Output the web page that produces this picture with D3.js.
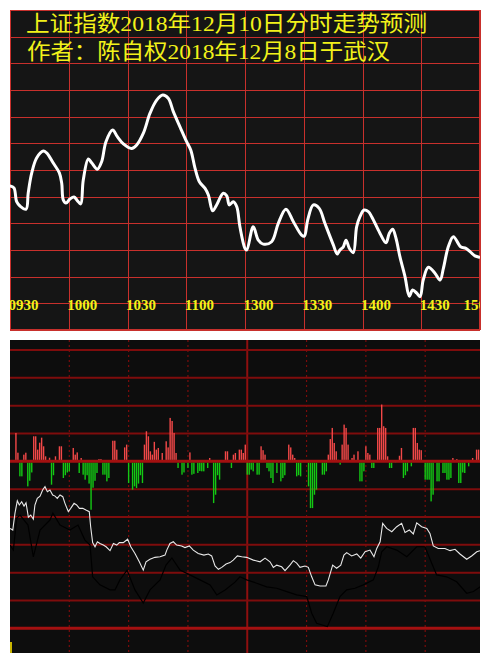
<!DOCTYPE html>
<html><head><meta charset="utf-8">
<script src="https://cdn.jsdelivr.net/npm/d3@7"></script>
<style>html,body{margin:0;padding:0;background:#fff;}svg{display:block;}</style>
</head><body>
<script>
// ---------- DATA ----------
const titleLines = ["上证指数2018年12月10日分时走势预测", "作者：陈自权2018年12月8日于武汉"];
const timeTicks = [0, 30, 60, 90, 120, 150, 180, 210, 240];
const timeLabels = ["0930", "1000", "1030", "1100", "1300", "1330", "1400", "1430", "1500"];

// top panel: predicted curve (minute, level in grid units)
const predMinute = [0,2.0,3.4,5.1,8.2,9.3,11.1,13.6,17.0,18.7,22.1,25.2,26.4,27.2,28.6,30.6,32.7,34.4,36.1,37.4,40.0,41.7,44.6,46.8,49.0,52.4,54.8,57.9,62.1,64.7,68.1,71.5,74.9,78.0,80.8,83.4,86.8,90.2,92.3,94.5,96.7,99.6,101.3,103.5,105.5,108.9,110.7,112.0,114.0,115.8,117.4,120.0,120.9,124.2,126.8,129.3,133.6,137.0,140.9,144.7,148.9,150.3,152.0,154.9,157.9,160.8,165.1,167.1,168.5,170.2,171.6,173.3,175.3,177.0,178.7,180.8,183.0,184.7,188.9,192.0,193.7,195.4,197.1,199.1,201.7,203.9,205.6,207.7,209.4,211.0,213.6,217.0,219.6,221.3,223.8,226.4,230.1,232.8,234.9,237.4,239.6];
const predLevel = [5.40,5.33,4.81,4.65,4.53,5.14,5.89,6.45,6.71,6.64,6.26,5.89,5.51,4.88,4.76,4.91,4.99,4.85,4.73,5.62,6.41,6.27,6.03,6.31,7.06,7.50,7.25,6.98,6.81,6.94,7.38,8.13,8.62,8.81,8.69,8.19,7.62,7.06,6.75,6.06,5.56,5.31,5.06,4.47,4.69,5.13,5.03,4.69,4.81,4.62,3.87,3.06,3.00,3.87,3.37,3.22,3.31,4.00,4.53,4.06,3.56,3.52,4.12,4.69,4.56,4.00,3.19,2.85,3.00,3.12,3.37,3.06,2.90,3.87,4.25,4.50,4.44,4.25,3.63,3.27,3.63,3.78,3.44,2.75,2.00,1.27,1.50,1.38,1.25,1.87,2.35,2.13,1.87,2.31,3.12,3.50,3.12,3.06,2.94,2.78,2.73];

// bottom panel: inflow (red) / outflow (green) bars, in tenths of a grid cell
const upMinute = [3,4,7,8,12,13,14,15,16,17,18,20,23,25,26,32,33,34,36,45,46,52,53,54,58,59,68,69,70,71,72,73,74,75,77,79,80,81,82,83,84,91,101,109,110,113,114,116,117,118,119,127,128,129,141,142,143,144,161,162,163,164,165,166,168,169,170,171,173,174,176,180,181,182,186,187,188,189,190,191,197,198,204,205,206,207,208,224,226,234,236,237];
const upValue  = [10.2,3.1,2.4,3.1,9.0,9.0,4.2,6.7,8.5,5.4,1.8,1.3,1.8,5.4,5.4,4.8,2.4,3.2,1.2,0.8,0.8,7.4,7.4,4.2,5.0,6.0,6.0,10.8,9.0,3.6,2.4,7.0,4.2,4.8,3.0,7.2,5.0,15.6,14.5,10.2,3.0,3.2,1.2,3.6,3.6,2.4,3.0,4.2,4.2,3.0,6.0,5.4,4.0,2.4,6.0,5.0,2.4,1.2,2.4,8.0,12.0,6.6,3.6,0.6,6.0,13.2,12.0,6.0,1.2,2.4,3.6,5.4,3.0,2.4,12.0,12.0,20.4,12.6,12.0,1.8,2.0,4.8,12.0,12.0,6.6,4.2,4.0,1.2,0.8,1.2,4.2,4.2];
const downMinute = [5,6,9,10,11,21,22,27,28,29,30,35,37,38,39,40,41,42,43,44,47,48,49,50,60,62,63,64,65,66,67,85,87,88,90,92,93,95,96,97,98,100,103,104,105,106,112,120,121,122,123,125,126,130,131,132,133,135,137,138,139,145,146,147,151,152,153,154,155,158,159,160,167,177,178,179,183,184,192,193,195,199,200,201,203,210,211,212,213,214,216,217,219,220,221,222,223,227,228,229,230,232];
const downValue  = [5.4,5.4,9.0,7.0,4.0,8.4,5.0,6.0,5.0,4.0,3.6,4.2,4.8,6.6,5.0,8.0,17.4,9.5,7.0,4.2,4.8,4.8,7.2,6.0,7.8,10.2,9.0,9.6,8.0,5.0,7.8,2.4,4.8,4.0,2.4,4.8,4.5,4.2,3.5,3.6,3.6,2.4,15.0,12.0,5.0,6.6,2.4,4.8,4.8,3.0,3.6,4.8,4.8,2.4,3.6,6.0,7.8,4.2,7.2,6.0,5.0,5.4,5.0,5.4,9.0,16.8,16.8,12.0,10.2,4.8,4.8,3.6,1.2,7.2,7.2,3.6,2.4,2.4,2.4,2.4,0.6,6.0,5.0,3.6,1.8,6.6,6.6,6.6,14.4,12.0,7.2,7.2,4.2,4.2,6.6,6.6,6.0,7.8,7.8,4.0,4.2,1.8];

// bottom panel: white and black lines (minute, level in grid units)
const whiteMinute = [0,1.4,2.5,3.7,4.7,5.9,7.1,8.1,9.3,10.5,11.8,12.6,13.8,15.2,16.5,17.7,18.9,20.2,21.6,22.8,23.9,25.3,26.7,27.8,29.5,30.7,32.4,33.7,35.1,36.8,38.4,40.1,40.8,41.8,43.0,44.2,45.5,47.2,48.6,50.6,52.3,54.0,55.3,57.3,59.5,61.1,63.2,65.4,67.4,68.8,70.8,73.3,75.9,78.4,79.3,80.9,82.6,84.3,86.8,88.5,90.7,92.7,95.2,98.1,100.3,102.0,103.7,105.4,107.1,109.3,111.3,112.9,115.0,117.2,119.7,123.1,126.5,129.0,131.5,133.2,134.9,137.4,139.1,141.6,143.3,145.0,146.7,149.2,150.9,152.6,154.3,156.8,159.8,161.0,163.2,165.2,167.3,168.9,170.3,172.8,175.4,177.4,179.6,182.1,184.1,185.5,187.2,188.5,190.5,193.1,195.6,198.1,199.8,202.0,204.0,205.7,208.2,210.8,212.4,214.1,216.6,220.0,222.6,225.1,227.6,231.0,233.5,236.1,237.7];
const whiteLevel = [3.59,3.53,4.13,4.58,4.43,4.55,4.39,4.51,3.99,4.07,3.92,4.43,4.67,4.75,4.97,5.09,4.91,4.97,4.79,4.75,4.67,4.79,4.73,4.49,4.19,4.31,4.49,4.43,4.31,4.31,4.25,4.19,3.65,3.08,2.93,3.11,3.05,2.99,2.93,2.79,3.05,2.99,3.08,3.08,3.20,2.93,2.69,2.39,2.09,2.39,2.48,2.55,2.57,2.63,2.81,3.05,3.11,2.99,2.96,2.90,2.96,2.81,2.69,2.63,2.67,2.60,2.24,2.12,2.19,2.31,2.36,2.45,2.60,2.57,2.55,2.45,2.39,2.52,2.39,2.19,2.27,2.21,2.07,2.27,2.43,2.34,2.19,2.24,2.19,1.85,1.56,1.52,1.52,1.74,2.27,2.16,2.27,2.63,2.72,2.60,2.67,2.52,2.75,2.81,2.57,2.87,3.11,3.77,3.59,3.47,3.65,3.77,3.44,3.53,3.39,3.79,3.65,3.59,3.41,2.96,2.87,2.87,2.79,2.84,2.67,2.48,2.60,2.75,2.79];
const blackMinute = [0,1.7,3.4,5.1,9.1,11.8,15.2,20.2,21.7,25.3,30.3,34.4,37.9,40.5,41.8,45.5,50.6,53.1,55.6,59.2,63.2,67.4,70.8,75.9,78.9,81.9,86.0,91.0,96.1,101.2,104.6,108.8,113.8,116.3,119.7,124.8,129.8,134.9,140.0,145.0,150.1,152.6,155.1,160.5,163.5,166.9,170.3,174.5,178.7,183.8,186.3,188.0,190.5,195.6,200.7,205.7,209.9,213.3,215.8,220.9,225.9,231.0,234.4,237.8];
const blackLevel = [2.99,2.81,3.96,4.07,3.71,2.57,3.53,3.89,4.14,3.71,3.53,3.71,3.17,2.99,1.85,1.56,1.38,1.38,1.74,2.09,1.38,0.91,1.38,1.74,2.27,2.53,2.09,1.92,1.74,1.56,1.20,1.38,1.66,1.85,1.74,1.62,1.49,1.44,1.32,1.20,1.14,0.54,0.18,0.06,0.54,1.14,1.38,1.44,1.56,1.74,2.21,2.75,2.93,2.81,2.57,2.93,2.93,2.34,1.92,1.85,1.67,1.26,1.32,1.49];

// ---------- DRAW ----------
const W = 490, H = 664;
const svg = d3.select("body").append("svg").attr("width", W).attr("height", H);

// ===== Top panel =====
const T = {x0: 10, x1: 480, y0: 10, y1: 330};
const xt = d3.scaleLinear().domain([0, 240]).range([T.x0, T.x1]);
const yt = d3.scaleLinear().domain([0, 12]).range([T.y1, T.y0]);
const defs = svg.append("defs");
defs.append("clipPath").attr("id", "clipTop")
  .append("rect").attr("x", T.x0).attr("y", T.y0).attr("width", T.x1 - T.x0).attr("height", T.y1 - T.y0);
defs.append("clipPath").attr("id", "clipBot")
  .append("rect").attr("x", 10).attr("y", 340).attr("width", 470).attr("height", 313);

const topG = svg.append("g");
topG.append("rect").attr("x", T.x0).attr("y", T.y0).attr("width", T.x1 - T.x0).attr("height", T.y1 - T.y0)
  .attr("fill", "#151515");
const tg = topG.append("g").attr("stroke", "#c8302c").attr("stroke-width", 1);
tg.selectAll("line.h").data(d3.range(0, 13)).join("line")
  .attr("x1", T.x0).attr("x2", T.x1).attr("y1", d => Math.round(yt(d)) + 0.5).attr("y2", d => Math.round(yt(d)) + 0.5);
tg.selectAll("line.v").data(timeTicks).join("line")
  .attr("y1", T.y0).attr("y2", T.y1).attr("x1", d => Math.round(xt(d)) + 0.5).attr("x2", d => Math.round(xt(d)) + 0.5);
topG.append("rect").attr("x", T.x0 + 0.5).attr("y", T.y0 + 0.5).attr("width", T.x1 - T.x0 - 1).attr("height", T.y1 - T.y0 - 1)
  .attr("fill", "none").attr("stroke", "#c8302c");

const topClip = topG.append("g").attr("clip-path", "url(#clipTop)");
titleLines.forEach((s, i) => {
  topClip.append("text").attr("x", i === 0 ? 26 : 27).attr("y", i === 0 ? 31 : 59)
    .attr("fill", "#f2f21a").attr("font-family", "'Liberation Serif','Noto Sans CJK SC'")
    .attr("font-size", 22).attr("textLength", i === 0 ? 401 : 363).attr("lengthAdjust", "spacingAndGlyphs")
    .text(s);
});
const predLine = d3.line().x((d, i) => xt(predMinute[i])).y(d => yt(d)).curve(d3.curveCatmullRom.alpha(0.5));
topClip.append("path").datum(predLevel).attr("d", predLine).attr("fill", "none")
  .attr("stroke", "#ffffff").attr("stroke-width", 3).attr("stroke-linejoin", "round").attr("stroke-linecap", "round");
const axisG = topClip.append("g").attr("transform", "translate(0,299)")
  .call(d3.axisBottom(xt).tickValues(timeTicks).tickFormat((d, i) => timeLabels[i]).tickSize(0).tickPadding(0));
axisG.select(".domain").remove();
axisG.selectAll("text").attr("text-anchor", "start").attr("dy", "0.72em")
  .attr("dx", (d, i) => i === timeTicks.length - 1 ? -17 : -2)
  .attr("fill", "#f2f21a").attr("font-family", "'Liberation Serif', serif").attr("font-weight", "bold").attr("font-size", 15);

// ===== Bottom panel =====
const B = {x0: 10, x1: 480, y0: 340, y1: 653};
const xb = d3.scaleLinear().domain([0, 240]).range([10, 484.5]);
const yb = d3.scaleLinear().domain([0, 10]).range([628.3, 350]);
const yFlow = d3.scaleLinear().domain([-10, 10]).range([yb(5), yb(7)]);
const bot = svg.append("g");
bot.append("rect").attr("x", B.x0).attr("y", B.y0).attr("width", B.x1 - B.x0).attr("height", B.y1 - B.y0).attr("fill", "#0d0d0d");
const bc = bot.append("g").attr("clip-path", "url(#clipBot)");
bc.selectAll("line.vd").data(timeTicks.filter(d => d > 0 && d < 240 && d !== 120)).join("line")
  .attr("x1", d => xb(d)).attr("x2", d => xb(d)).attr("y1", B.y0).attr("y2", B.y1)
  .attr("stroke", "#7a0c0c").attr("stroke-width", 1.2).attr("stroke-dasharray", "2,3");
bc.append("line").attr("x1", xb(120)).attr("x2", xb(120)).attr("y1", B.y0).attr("y2", B.y1)
  .attr("stroke", "#8e0f0f").attr("stroke-width", 2);
bc.selectAll("line.h").data(d3.range(0, 11)).join("line")
  .attr("x1", B.x0).attr("x2", B.x1).attr("y1", d => yb(d)).attr("y2", d => yb(d))
  .attr("stroke", d => (d === 6 || d === 0) ? "#a41010" : "#7e0c0c")
  .attr("stroke-width", d => (d === 6 || d === 0) ? 3 : 2);
bc.selectAll("rect.up").data(upValue).join("rect")
  .attr("x", (d, i) => xb(upMinute[i]) - 0.7).attr("width", 1.4)
  .attr("y", d => yFlow(d)).attr("height", d => Math.max(0, yFlow(0) - yFlow(d) - 1.5))
  .attr("fill", "#f24848");
bc.selectAll("rect.dn").data(downValue).join("rect")
  .attr("x", (d, i) => xb(downMinute[i]) - 0.7).attr("width", 1.4)
  .attr("y", yFlow(0) + 1.5).attr("height", d => Math.max(0, yFlow(-d) - yFlow(0) - 1.5))
  .attr("fill", "#14c814");
const wl = d3.line().x((d, i) => xb(whiteMinute[i])).y(d => yb(d));
const bl = d3.line().x((d, i) => xb(blackMinute[i])).y(d => yb(d));
bc.append("path").datum(blackLevel).attr("d", bl).attr("fill", "none").attr("stroke", "#000").attr("stroke-width", 1.2);
bc.append("path").datum(whiteLevel).attr("d", wl).attr("fill", "none").attr("stroke", "#e8e8e8").attr("stroke-width", 1.1);
bc.append("rect").attr("x", 10).attr("y", 642).attr("width", 2).attr("height", 11).attr("fill", "#c8b400");
</script>
</body></html>
